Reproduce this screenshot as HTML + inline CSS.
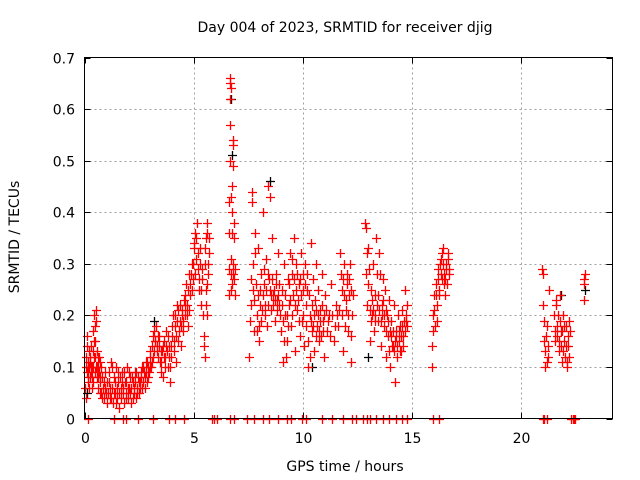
<!DOCTYPE html>
<html><head><meta charset="utf-8"><style>
html,body{margin:0;padding:0;background:#fff;}
svg{display:block;font-family:"DejaVu Sans","Liberation Sans",sans-serif;}
</style></head><body>
<svg id="chart" width="640" height="480" viewBox="0 0 640 480" xmlns="http://www.w3.org/2000/svg">
<rect width="640" height="480" fill="#fff"/>
<text x="345" y="32" font-size="14" text-anchor="middle">Day 004 of 2023, SRMTID for receiver djig</text>
<text transform="translate(19,237) rotate(-90)" font-size="14" text-anchor="middle">SRMTID / TECUs</text>
<text x="345" y="471" font-size="14" text-anchor="middle">GPS time / hours</text>
<g id="grid"></g><g id="ticks"></g><g id="marks"></g>
<rect x="84.5" y="57.5" width="528" height="361" fill="none" stroke="#000" stroke-width="1"/>
</svg>
<script>
const xTicks=[0,5,10,15,20];
const yTicks=[0,0.1,0.2,0.3,0.4,0.5,0.6,0.7];
const yTickLabels=["0","0.1","0.2","0.3","0.4","0.5","0.6","0.7"];
const blackPoints=[[0.1,0.05],[3.2,0.19],[6.72,0.62],[6.75,0.51],[8.5,0.46],[10.4,0.1],[13.0,0.12],[21.8,0.24],[22.9,0.25]];
const redPoints=[[0.05,0.04],[0.08,0.12],[0.1,0.09],[0.12,0.16],[0.15,0.07],[0.18,0.1],[0.2,0.13],[0.22,0.06],[0.25,0.11],[0.28,0.09],[0.3,0.14],[0.33,0.08],[0.35,0.1],[0.38,0.17],[0.4,0.07],[0.42,0.12],[0.45,0.2],[0.47,0.09],[0.5,0.15],[0.52,0.21],[0.55,0.1],[0.58,0.08],[0.6,0.12],[0.62,0.06],[0.65,0.09],[0.7,0.07],[0.72,0.11],[0.75,0.05],[0.8,0.08],[0.85,0.06],[0.9,0.04],[0.95,0.09],
[1.0,0.05],[1.05,0.03],[1.1,0.07],[1.15,0.04],[1.2,0.11],[1.25,0.06],[1.3,0.03],[1.35,0.08],[1.4,0.05],[1.45,0.1],[1.5,0.04],[1.55,0.07],[1.6,0.02],[1.65,0.06],[1.7,0.09],[1.75,0.05],[1.8,0.03],[1.85,0.07],[1.9,0.05],[1.95,0.1],[2.0,0.04],[2.05,0.06],[2.1,0.08],[2.15,0.03],[2.2,0.07],[2.25,0.05],[2.3,0.09],[2.35,0.04],[2.4,0.06],[2.45,0.08],[2.5,0.05],[2.55,0.07],[2.6,0.09],[2.65,0.06],[2.7,0.1],[2.75,0.08],[2.8,0.11],[2.85,0.07],[2.9,0.1],[2.95,0.09],[3.0,0.12],
[3.05,0.1],[3.1,0.14],[3.15,0.12],[3.2,0.17],[3.25,0.15],[3.3,0.13],[3.35,0.16],[3.4,0.14],[3.45,0.11],[3.5,0.09],[3.55,0.13],[3.6,0.08],[3.65,0.15],[3.7,0.12],[3.75,0.17],[3.8,0.1],[3.85,0.14],[3.9,0.07],[3.95,0.12],[4.0,0.16],[4.05,0.2],[4.1,0.13],[4.15,0.18],[4.2,0.11],[4.25,0.22],[4.3,0.15],[4.35,0.19],[4.4,0.14],[4.45,0.21],[4.5,0.17],
[4.55,0.23],[4.6,0.2],[4.65,0.26],[4.7,0.22],[4.75,0.18],[4.8,0.28],[4.85,0.24],[4.9,0.3],[4.95,0.27],[5.0,0.33],[5.05,0.36],[5.1,0.31],[5.15,0.38],[5.2,0.29],[5.25,0.25],[5.3,0.33],[5.35,0.22],[5.4,0.27],[5.45,0.16],[5.5,0.12],[5.52,0.3],[5.55,0.35],[5.58,0.25],[5.6,0.38],[5.62,0.2],[5.65,0.28],[5.68,0.32],
[6.6,0.29],[6.62,0.42],[6.64,0.5],[6.66,0.66],[6.68,0.57],[6.7,0.25],[6.72,0.31],[6.74,0.45],[6.76,0.36],[6.78,0.28],[6.8,0.54],[6.82,0.49],[6.84,0.38],[6.86,0.27],[6.88,0.24],[6.65,0.65],[6.7,0.64],
[7.55,0.12],[7.6,0.22],[7.65,0.44],[7.7,0.3],[7.75,0.17],[7.8,0.36],[7.85,0.26],[7.9,0.2],[7.95,0.33],[8.0,0.15],[8.05,0.25],[8.1,0.19],[8.15,0.4],[8.2,0.29],[8.25,0.22],[8.3,0.31],[8.35,0.18],[8.4,0.45],[8.45,0.27],[8.5,0.43],[8.55,0.21],[8.6,0.35],[8.65,0.24],[8.7,0.19],[8.75,0.28],[8.8,0.23],[8.85,0.32],[8.9,0.26],
[9.0,0.17],[9.05,0.25],[9.1,0.11],[9.15,0.3],[9.2,0.2],[9.25,0.15],[9.3,0.27],[9.35,0.22],[9.4,0.32],[9.45,0.18],[9.5,0.28],[9.55,0.24],[9.6,0.35],[9.65,0.13],[9.7,0.3],[9.75,0.21],[9.8,0.26],[9.85,0.16],[9.9,0.32],[9.95,0.19],
[10.0,0.25],[10.05,0.14],[10.1,0.3],[10.15,0.22],[10.2,0.28],[10.25,0.1],[10.3,0.2],[10.35,0.34],[10.4,0.17],[10.45,0.27],[10.5,0.13],[10.55,0.23],[10.6,0.3],[10.65,0.18],[10.7,0.25],[10.75,0.15],[10.8,0.21],[10.85,0.28],[10.9,0.19],[10.95,0.12],[11.0,0.24],[11.1,0.17],[11.2,0.2],[11.3,0.26],[11.4,0.15],[11.5,0.22],[11.6,0.18],[11.7,0.32],[11.8,0.25],[11.85,0.13],[11.9,0.3],[11.95,0.21],[12.0,0.28],[12.05,0.17],[12.1,0.24],[12.15,0.3],[12.2,0.11],[12.25,0.2],
[12.85,0.38],[12.9,0.28],[12.95,0.22],[13.0,0.33],[13.05,0.15],[13.1,0.25],[13.15,0.2],[13.2,0.3],[13.25,0.17],[13.3,0.24],[13.35,0.35],[13.4,0.28],[13.45,0.19],[13.5,0.32],[13.55,0.14],[13.6,0.22],[13.65,0.27],[13.7,0.18],[13.75,0.25],[13.8,0.12],[13.85,0.2],[13.9,0.16],[13.95,0.23],[14.0,0.1],[14.05,0.19],[14.1,0.14],[14.15,0.22],[14.2,0.07],[14.25,0.17],[14.3,0.12],[14.35,0.2],[14.4,0.15],[14.45,0.18],[14.5,0.13],[14.55,0.21],[14.6,0.16],[14.65,0.25],[14.7,0.19],[14.75,0.22],
[15.9,0.1],[15.95,0.2],[16.0,0.24],[16.05,0.18],[16.1,0.26],[16.15,0.22],[16.2,0.29],[16.25,0.25],[16.3,0.31],[16.35,0.27],[16.4,0.33],[16.45,0.28],[16.5,0.24],[16.55,0.3],[16.6,0.26],[16.65,0.32],[16.7,0.29],
[20.95,0.29],[21.0,0.22],[21.05,0.15],[21.1,0.1],[21.15,0.18],[21.2,0.12],[21.25,0.25],[21.5,0.2],[21.55,0.15],[21.6,0.23],[21.65,0.18],[21.7,0.13],[21.75,0.24],[21.8,0.17],[21.85,0.11],[21.9,0.2],[21.95,0.15],[22.0,0.12],[22.05,0.18],[22.1,0.1],[22.15,0.14],[22.2,0.19],[22.85,0.27],[22.88,0.23],[22.9,0.28]];
const redPoints2=[[0.02,0.06],[0.07,0.1],[0.11,0.14],[0.14,0.11],[0.17,0.08],[0.21,0.1],[0.24,0.08],[0.27,0.12],[0.31,0.1],[0.34,0.06],[0.37,0.13],[0.41,0.1],[0.44,0.15],[0.46,0.18],[0.49,0.12],[0.51,0.1],[0.54,0.19],[0.57,0.13],[0.61,0.1],[0.64,0.08],[0.67,0.12],[0.69,0.05],[0.73,0.08],[0.77,0.1],[0.82,0.04],[0.87,0.07],[0.92,0.06],[0.97,0.05],
[1.02,0.07],[1.08,0.05],[1.12,0.09],[1.18,0.06],[1.22,0.04],[1.28,0.1],[1.33,0.05],[1.38,0.07],[1.42,0.03],[1.48,0.06],[1.52,0.09],[1.58,0.05],[1.62,0.08],[1.68,0.04],[1.72,0.07],[1.78,0.06],[1.82,0.09],[1.88,0.04],[1.92,0.07],[1.98,0.06],[2.02,0.09],[2.08,0.05],[2.12,0.06],[2.18,0.08],[2.22,0.04],[2.28,0.06],[2.32,0.07],[2.38,0.09],[2.42,0.05],[2.48,0.07],[2.52,0.06],[2.58,0.08],[2.62,0.1],[2.68,0.07],[2.72,0.09],[2.78,0.06],[2.82,0.09],[2.88,0.11],[2.92,0.08],[2.98,0.1],
[3.02,0.13],[3.08,0.11],[3.12,0.16],[3.18,0.13],[3.22,0.15],[3.28,0.18],[3.32,0.14],[3.38,0.12],[3.42,0.16],[3.48,0.13],[3.52,0.11],[3.58,0.14],[3.62,0.12],[3.68,0.1],[3.72,0.14],[3.78,0.13],[3.82,0.16],[3.88,0.12],[3.92,0.1],[3.98,0.14],[4.02,0.18],[4.08,0.15],[4.12,0.2],[4.18,0.16],[4.22,0.19],[4.28,0.21],[4.32,0.17],[4.38,0.22],[4.42,0.18],[4.48,0.2],
[4.52,0.19],[4.58,0.22],[4.62,0.24],[4.68,0.2],[4.72,0.25],[4.78,0.21],[4.82,0.26],[4.88,0.28],[4.92,0.25],[4.98,0.3],[5.02,0.34],[5.08,0.28],[5.12,0.35],[5.18,0.32],[5.22,0.27],[5.28,0.3],[5.32,0.25],[5.38,0.29],[5.42,0.2],[5.48,0.14],[5.53,0.33],[5.57,0.22],[5.61,0.36],[5.63,0.26],[5.66,0.3],[5.7,0.35],
[6.61,0.24],[6.63,0.36],[6.67,0.62],[6.69,0.43],[6.71,0.28],[6.73,0.26],[6.77,0.4],[6.79,0.3],[6.81,0.53],[6.85,0.35],[6.87,0.29],
[7.58,0.19],[7.62,0.27],[7.68,0.42],[7.72,0.25],[7.78,0.23],[7.82,0.32],[7.88,0.17],[7.92,0.24],[7.98,0.18],[8.02,0.22],[8.08,0.28],[8.12,0.21],[8.18,0.24],[8.22,0.26],[8.28,0.2],[8.32,0.25],[8.38,0.22],[8.42,0.28],[8.48,0.25],[8.52,0.24],[8.58,0.27],[8.62,0.22],[8.68,0.25],[8.72,0.23],[8.78,0.26],[8.82,0.21],[8.88,0.24],[8.92,0.22],[8.96,0.2],
[9.02,0.22],[9.08,0.19],[9.12,0.15],[9.18,0.24],[9.22,0.12],[9.28,0.2],[9.32,0.18],[9.38,0.26],[9.42,0.23],[9.48,0.2],[9.52,0.31],[9.58,0.27],[9.62,0.22],[9.68,0.25],[9.72,0.28],[9.78,0.23],[9.82,0.19],[9.88,0.27],[9.92,0.24],[9.98,0.28],
[10.02,0.2],[10.08,0.26],[10.12,0.18],[10.18,0.25],[10.22,0.15],[10.28,0.24],[10.32,0.12],[10.38,0.19],[10.42,0.22],[10.48,0.18],[10.52,0.2],[10.58,0.16],[10.62,0.21],[10.68,0.2],[10.72,0.17],[10.78,0.19],[10.82,0.16],[10.88,0.22],[10.92,0.17],[10.98,0.2],[11.05,0.21],[11.15,0.19],[11.25,0.16],[11.35,0.2],[11.45,0.18],[11.55,0.2],[11.65,0.21],[11.72,0.28],[11.78,0.2],[11.82,0.27],[11.88,0.24],[11.92,0.18],[11.98,0.23],[12.02,0.26],[12.08,0.2],[12.12,0.27],[12.18,0.25],[12.22,0.16],[12.28,0.24],
[12.87,0.37],[12.92,0.32],[12.98,0.26],[13.02,0.29],[13.08,0.21],[13.12,0.19],[13.18,0.23],[13.22,0.21],[13.28,0.2],[13.32,0.19],[13.38,0.22],[13.42,0.24],[13.48,0.21],[13.52,0.28],[13.58,0.19],[13.62,0.2],[13.68,0.23],[13.72,0.2],[13.78,0.21],[13.82,0.17],[13.88,0.19],[13.92,0.13],[13.98,0.17],[14.02,0.16],[14.08,0.14],[14.12,0.17],[14.18,0.13],[14.22,0.15],[14.28,0.16],[14.32,0.14],[14.38,0.17],[14.42,0.13],[14.48,0.16],[14.52,0.18],[14.58,0.14],[14.62,0.19],[14.68,0.17],[14.72,0.2],[14.78,0.18],
[15.92,0.14],[15.97,0.17],[16.02,0.21],[16.07,0.24],[16.12,0.19],[16.17,0.27],[16.22,0.24],[16.27,0.3],[16.32,0.28],[16.37,0.32],[16.42,0.3],[16.47,0.26],[16.52,0.27],[16.57,0.29],[16.62,0.31],[16.67,0.28],
[20.97,0.28],[21.02,0.19],[21.07,0.13],[21.12,0.16],[21.17,0.11],[21.22,0.14],[21.52,0.17],[21.57,0.22],[21.62,0.16],[21.67,0.2],[21.72,0.15],[21.77,0.19],[21.82,0.14],[21.87,0.17],[21.92,0.13],[21.97,0.18],[22.02,0.14],[22.07,0.11],[22.12,0.16],[22.17,0.12],[22.22,0.17],[22.87,0.26],
[0.15,0],[1.35,0],[1.75,0],[1.9,0],[2.45,0],[3.15,0],[3.85,0],[4.15,0],[4.55,0],[5.85,0],[5.95,0],[6.05,0],[6.65,0],[6.85,0],[7.45,0],[7.75,0],[8.15,0],[8.45,0],[8.85,0],[9.25,0],[9.45,0],[9.95,0],[10.15,0],[10.85,0],[11.35,0],[11.85,0],[12.25,0],[12.45,0],[12.75,0],[12.95,0],[13.05,0],[13.35,0],[13.65,0],[13.95,0],[14.25,0],[14.55,0],[14.75,0],[15.95,0],[16.25,0],[21.0,0],[21.05,0],[21.15,0],[22.25,0],[22.35,0],[22.4,0],[22.45,0]];
const NS="http://www.w3.org/2000/svg";
const X0=84.5,X1=612.5,Y0=418.5,Y1=57.5,XMAX=24.17,YMAX=0.7;
function xs(t){return X0+(X1-X0)*t/XMAX;}
function ys(v){return Y0-(Y0-Y1)*v/YMAX;}
function mk(tag,attrs,parent){const e=document.createElementNS(NS,tag);for(const k in attrs)e.setAttribute(k,attrs[k]);parent.appendChild(e);return e;}
const grid=document.getElementById('grid'),ticks=document.getElementById('ticks'),marks=document.getElementById('marks');
yTicks.forEach((v,i)=>{
  const y=Math.round(ys(v))+0.5;
  if(i>0&&i<yTicks.length-1){const g=mk('line',{x1:X0,x2:X1,y1:y,y2:y,stroke:'#a0a0a0','stroke-dasharray':'2,3'},grid);
  
  }
  const tl=mk('line',{x1:X0,x2:X0+6,y1:y,y2:y,stroke:'#000'},ticks);
  
  
  const tr=mk('line',{x1:X1-6,x2:X1,y1:y,y2:y,stroke:'#000'},ticks);
  
  
  const t=mk('text',{x:75,y:y+5,'font-size':14,'text-anchor':'end'},ticks);t.textContent=yTickLabels[i];
  
  
});
xTicks.forEach(v=>{
  const x=Math.round(xs(v))+0.5;
  if(v>0){const g=mk('line',{x1:x,x2:x,y1:Y1,y2:Y0,stroke:'#a0a0a0','stroke-dasharray':'2,3'},grid);
  
  }
  const tb=mk('line',{x1:x,x2:x,y1:Y0-6,y2:Y0,stroke:'#000'},ticks);
  
  
  const tt=mk('line',{x1:x,x2:x,y1:Y1,y2:Y1+6,stroke:'#000'},ticks);
  
  
  const t=mk('text',{x:x,y:443,'font-size':14,'text-anchor':'middle'},ticks);t.textContent=String(v);
  
  
});
function plus(p,color,name){
  const x=Math.round(xs(p[0]))+0.5,y=Math.round(ys(p[1]))+0.5;
  const e=mk('path',{d:`M${x-4.5} ${y}H${x+4.5}M${x} ${y-4.5}V${y+4.5}`,stroke:color,'stroke-width':1.3,fill:'none'},marks);
  
  
}
blackPoints.forEach(p=>plus(p,'#000','black-point'));
redPoints.forEach(p=>plus(p,'#ff0000','red-point'));
redPoints2.forEach(p=>plus(p,'#ff0000','red-point'));
</script>
</body></html>
